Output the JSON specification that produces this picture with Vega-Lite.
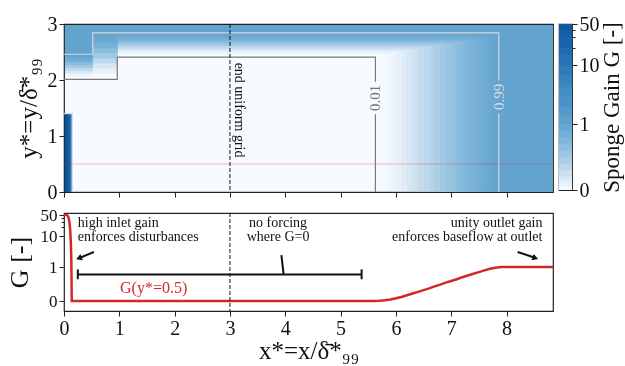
{
  "$schema": "https://vega.github.io/schema/vega-lite/v6.json",
  "padding": {"left": 5, "top": 13, "right": 2, "bottom": 2},
  "spacing": 2,
  "config": {
    "font": "Liberation Serif",
    "view": {"stroke": "#222", "strokeWidth": 1.2},
    "axis": {"domain": false, "grid": false, "tickColor": "#222", "labelColor": "#111", "titleColor": "#111", "labelFont": "Liberation Serif", "titleFont": "Liberation Serif", "labelFontSize": 20, "titleFontSize": 25, "titleFontWeight": "normal", "tickSize": 5, "labelPadding": 2, "labelFlush": false, "labelOverlap": false, "tickCount": 20}
  },
  "datasets": {
    "heat": [
      {"x": 0, "x2": 8.84, "y": 0, "y2": 3, "G": 0},
      {"x": 5.6, "x2": 8.84, "y": 0, "y2": 3, "G": 0.003},
      {"x": 5.7, "x2": 8.84, "y": 0, "y2": 3, "G": 0.012},
      {"x": 5.8, "x2": 8.84, "y": 0, "y2": 3, "G": 0.03},
      {"x": 5.9, "x2": 8.84, "y": 0, "y2": 3, "G": 0.06},
      {"x": 6.0, "x2": 8.84, "y": 0, "y2": 3, "G": 0.1},
      {"x": 6.1, "x2": 8.84, "y": 0, "y2": 3, "G": 0.145},
      {"x": 6.2, "x2": 8.84, "y": 0, "y2": 3, "G": 0.195},
      {"x": 6.3, "x2": 8.84, "y": 0, "y2": 3, "G": 0.245},
      {"x": 6.4, "x2": 8.84, "y": 0, "y2": 3, "G": 0.295},
      {"x": 6.5, "x2": 8.84, "y": 0, "y2": 3, "G": 0.345},
      {"x": 6.6, "x2": 8.84, "y": 0, "y2": 3, "G": 0.4},
      {"x": 6.7, "x2": 8.84, "y": 0, "y2": 3, "G": 0.455},
      {"x": 6.8, "x2": 8.84, "y": 0, "y2": 3, "G": 0.51},
      {"x": 6.9, "x2": 8.84, "y": 0, "y2": 3, "G": 0.565},
      {"x": 7.0, "x2": 8.84, "y": 0, "y2": 3, "G": 0.615},
      {"x": 7.1, "x2": 8.84, "y": 0, "y2": 3, "G": 0.67},
      {"x": 7.2, "x2": 8.84, "y": 0, "y2": 3, "G": 0.725},
      {"x": 7.3, "x2": 8.84, "y": 0, "y2": 3, "G": 0.775},
      {"x": 7.4, "x2": 8.84, "y": 0, "y2": 3, "G": 0.825},
      {"x": 7.5, "x2": 8.84, "y": 0, "y2": 3, "G": 0.875},
      {"x": 7.6, "x2": 8.84, "y": 0, "y2": 3, "G": 0.925},
      {"x": 7.7, "x2": 8.84, "y": 0, "y2": 3, "G": 0.965},
      {"x": 7.8, "x2": 8.84, "y": 0, "y2": 3, "G": 0.99},
      {"x": 7.88, "x2": 8.84, "y": 0, "y2": 3, "G": 1},
      {"x": 0.97, "x2": 8.84, "y": 2.42, "y2": 3, "G": 0.009},
      {"x": 0.97, "x2": 8.84, "y": 2.467, "y2": 3, "G": 0.074},
      {"x": 0.97, "x2": 8.84, "y": 2.513, "y2": 3, "G": 0.189},
      {"x": 0.97, "x2": 8.84, "y": 2.56, "y2": 3, "G": 0.336},
      {"x": 0.97, "x2": 8.84, "y": 2.607, "y2": 3, "G": 0.5},
      {"x": 0.97, "x2": 8.84, "y": 2.653, "y2": 3, "G": 0.664},
      {"x": 0.97, "x2": 8.84, "y": 2.7, "y2": 3, "G": 0.811},
      {"x": 0.97, "x2": 8.84, "y": 2.747, "y2": 3, "G": 0.926},
      {"x": 0.97, "x2": 8.84, "y": 2.793, "y2": 3, "G": 0.991},
      {"x": 0.97, "x2": 8.84, "y": 2.84, "y2": 3, "G": 1},
      {"x": 0, "x2": 0.52, "y": 2.02, "y2": 3, "G": 0.009},
      {"x": 0, "x2": 0.52, "y": 2.069, "y2": 3, "G": 0.074},
      {"x": 0, "x2": 0.52, "y": 2.118, "y2": 3, "G": 0.189},
      {"x": 0, "x2": 0.52, "y": 2.167, "y2": 3, "G": 0.336},
      {"x": 0, "x2": 0.52, "y": 2.216, "y2": 3, "G": 0.5},
      {"x": 0, "x2": 0.52, "y": 2.264, "y2": 3, "G": 0.664},
      {"x": 0, "x2": 0.52, "y": 2.313, "y2": 3, "G": 0.811},
      {"x": 0, "x2": 0.52, "y": 2.362, "y2": 3, "G": 0.926},
      {"x": 0, "x2": 0.52, "y": 2.411, "y2": 3, "G": 0.991},
      {"x": 0, "x2": 0.52, "y": 2.46, "y2": 3, "G": 1},
      {"x": 0.52, "x2": 0.97, "y": 2.02, "y2": 3, "G": 0.009},
      {"x": 0.52, "x2": 0.97, "y": 2.111, "y2": 3, "G": 0.074},
      {"x": 0.52, "x2": 0.97, "y": 2.202, "y2": 3, "G": 0.189},
      {"x": 0.52, "x2": 0.97, "y": 2.293, "y2": 3, "G": 0.336},
      {"x": 0.52, "x2": 0.97, "y": 2.384, "y2": 3, "G": 0.5},
      {"x": 0.52, "x2": 0.97, "y": 2.476, "y2": 3, "G": 0.664},
      {"x": 0.52, "x2": 0.97, "y": 2.567, "y2": 3, "G": 0.811},
      {"x": 0.52, "x2": 0.97, "y": 2.658, "y2": 3, "G": 0.926},
      {"x": 0.52, "x2": 0.97, "y": 2.749, "y2": 3, "G": 0.991},
      {"x": 0.52, "x2": 0.97, "y": 2.84, "y2": 3, "G": 1},
      {"x": 0, "x2": 0.145, "y": 0, "y2": 1.39, "G": 2},
      {"x": 0, "x2": 0.13, "y": 0, "y2": 1.39, "G": 10},
      {"x": 0, "x2": 0.11, "y": 0, "y2": 1.39, "G": 30},
      {"x": 0, "x2": 0.08, "y": 0, "y2": 1.39, "G": 50}
    ],
    "c01": [
      {"seg": "a", "o": 1, "x": 0, "y": 2.01},
      {"seg": "a", "o": 2, "x": 0.963, "y": 2.01},
      {"seg": "a", "o": 3, "x": 0.963, "y": 2.41},
      {"seg": "a", "o": 4, "x": 5.63, "y": 2.41},
      {"seg": "a", "o": 5, "x": 5.63, "y": 1.97},
      {"seg": "b", "o": 1, "x": 5.63, "y": 1.39},
      {"seg": "b", "o": 2, "x": 5.63, "y": 0}
    ],
    "c99": [
      {"seg": "a", "o": 1, "x": 0, "y": 2.46},
      {"seg": "a", "o": 2, "x": 0.52, "y": 2.46},
      {"seg": "a", "o": 3, "x": 0.52, "y": 2.84},
      {"seg": "a", "o": 4, "x": 7.86, "y": 2.84},
      {"seg": "a", "o": 5, "x": 7.86, "y": 1.99},
      {"seg": "b", "o": 1, "x": 7.86, "y": 1.41},
      {"seg": "b", "o": 2, "x": 7.86, "y": 0},
      {"seg": "c", "o": 1, "x": 0, "y": 1.4},
      {"seg": "c", "o": 2, "x": 0.15, "y": 1.4},
      {"seg": "c", "o": 3, "x": 0.15, "y": 0}
    ],
    "cbar": [
      {"lo": 0, "hi": 50, "G": 0.025},
      {"lo": 0.05, "hi": 50, "G": 0.075},
      {"lo": 0.1, "hi": 50, "G": 0.125},
      {"lo": 0.15, "hi": 50, "G": 0.175},
      {"lo": 0.2, "hi": 50, "G": 0.25},
      {"lo": 0.3, "hi": 50, "G": 0.35},
      {"lo": 0.4, "hi": 50, "G": 0.45},
      {"lo": 0.5, "hi": 50, "G": 0.55},
      {"lo": 0.6, "hi": 50, "G": 0.65},
      {"lo": 0.7, "hi": 50, "G": 0.75},
      {"lo": 0.8, "hi": 50, "G": 0.85},
      {"lo": 0.9, "hi": 50, "G": 0.95},
      {"lo": 1, "hi": 50, "G": 1.25},
      {"lo": 1.5, "hi": 50, "G": 1.75},
      {"lo": 2, "hi": 50, "G": 2.5},
      {"lo": 3, "hi": 50, "G": 3.5},
      {"lo": 4, "hi": 50, "G": 4.5},
      {"lo": 5, "hi": 50, "G": 6},
      {"lo": 7, "hi": 50, "G": 8.5},
      {"lo": 10, "hi": 50, "G": 12.5},
      {"lo": 15, "hi": 50, "G": 17.5},
      {"lo": 20, "hi": 50, "G": 25},
      {"lo": 30, "hi": 50, "G": 35},
      {"lo": 40, "hi": 50, "G": 45}
    ],
    "gline": [
      {"x": 0, "G": 50}, {"x": 0.05, "G": 50}, {"x": 0.07, "G": 47}, {"x": 0.085, "G": 40},
      {"x": 0.1, "G": 28}, {"x": 0.11, "G": 18}, {"x": 0.12, "G": 9}, {"x": 0.127, "G": 4},
      {"x": 0.133, "G": 1.5}, {"x": 0.137, "G": 0.5}, {"x": 0.14, "G": 0}, {"x": 5.6, "G": 0},
      {"x": 5.7, "G": 0.005}, {"x": 5.8, "G": 0.02}, {"x": 5.9, "G": 0.045}, {"x": 6.0, "G": 0.08},
      {"x": 6.1, "G": 0.12}, {"x": 6.2, "G": 0.17}, {"x": 6.3, "G": 0.22}, {"x": 6.4, "G": 0.27},
      {"x": 6.5, "G": 0.32}, {"x": 6.6, "G": 0.37}, {"x": 6.7, "G": 0.43}, {"x": 6.8, "G": 0.48},
      {"x": 6.9, "G": 0.54}, {"x": 7.0, "G": 0.59}, {"x": 7.1, "G": 0.64}, {"x": 7.2, "G": 0.7},
      {"x": 7.3, "G": 0.75}, {"x": 7.4, "G": 0.8}, {"x": 7.5, "G": 0.85}, {"x": 7.6, "G": 0.9},
      {"x": 7.7, "G": 0.95}, {"x": 7.8, "G": 0.98}, {"x": 7.9, "G": 1}, {"x": 8.84, "G": 1}
    ],
    "segs": [
      {"x": 0.54, "G": 3.1, "x2": 0.3, "G2": 2.05},
      {"x": 8.2, "G": 3.1, "x2": 8.49, "G2": 2.1},
      {"x": 0.25, "G": 0.78, "x2": 5.38, "G2": 0.78},
      {"x": 0.25, "G": 0.64, "x2": 0.25, "G2": 0.93},
      {"x": 5.38, "G": 0.64, "x2": 5.38, "G2": 0.93},
      {"x": 3.93, "G": 2.5, "x2": 3.97, "G2": 0.78}
    ]
  },
  "vconcat": [
    {
      "hconcat": [
        {
          "width": 489,
          "height": 168,
          "layer": [
            {
              "data": {"name": "heat"},
              "mark": {"type": "rect", "blend": "darken"},
              "encoding": {
                "x": {"field": "x", "type": "quantitative", "scale": {"domain": [0, 8.84], "nice": false, "zero": false}, "axis": {"title": null, "labels": false, "values": [0, 1, 2, 3, 4, 5, 6, 7, 8]}},
                "x2": {"field": "x2"},
                "y": {"field": "y", "type": "quantitative", "scale": {"domain": [0, 3], "nice": false, "zero": false}, "axis": {"title": "y*=y/δ̄*₉₉", "values": [0, 1, 2, 3], "format": "d", "titlePadding": 6}},
                "y2": {"field": "y2"},
                "color": {"field": "G", "type": "quantitative", "legend": null, "scale": {"type": "linear", "domain": [0, 0.1, 0.25, 0.5, 0.75, 1, 2, 5, 10, 20, 50], "range": ["#f7fbff", "#e6f0fa", "#cde0f1", "#a2cae4", "#7fb6da", "#62a3d0", "#4f95c9", "#3785c0", "#2a77b8", "#1c68ae", "#0c559f"], "interpolate": "rgb"}}
              }
            },
            {
              "data": {"values": [{"y": 0.5}]},
              "mark": {"type": "rule", "color": "#d62728", "opacity": 0.3, "strokeWidth": 1},
              "encoding": {"y": {"field": "y", "type": "quantitative"}}
            },
            {
              "data": {"name": "c01"},
              "mark": {"type": "line", "color": "#7a7a7a", "strokeWidth": 1.2},
              "encoding": {"x": {"field": "x", "type": "quantitative"}, "y": {"field": "y", "type": "quantitative"}, "detail": {"field": "seg"}, "order": {"field": "o"}}
            },
            {
              "data": {"name": "c99"},
              "mark": {"type": "line", "color": "#d6d6d6", "strokeWidth": 1.2},
              "encoding": {"x": {"field": "x", "type": "quantitative"}, "y": {"field": "y", "type": "quantitative"}, "detail": {"field": "seg"}, "order": {"field": "o"}}
            },
            {
              "data": {"values": [{"x": 3}]},
              "mark": {"type": "rule", "color": "#111", "strokeDash": [4, 2], "strokeWidth": 1},
              "encoding": {"x": {"field": "x", "type": "quantitative"}}
            },
            {
              "data": {"values": [{"x": 3.16, "y": 2.31, "t": "end uniform grid"}]},
              "mark": {"type": "text", "angle": 90, "align": "left", "baseline": "middle", "fontSize": 14, "color": "#111"},
              "encoding": {"x": {"field": "x", "type": "quantitative"}, "y": {"field": "y", "type": "quantitative"}, "text": {"field": "t"}}
            },
            {
              "data": {"values": [{"x": 5.63, "y": 1.68, "t": "0.01"}]},
              "mark": {"type": "text", "angle": 270, "align": "center", "baseline": "middle", "fontSize": 15, "color": "#777"},
              "encoding": {"x": {"field": "x", "type": "quantitative"}, "y": {"field": "y", "type": "quantitative"}, "text": {"field": "t"}}
            },
            {
              "data": {"values": [{"x": 7.86, "y": 1.7, "t": "0.99"}]},
              "mark": {"type": "text", "angle": 270, "align": "center", "baseline": "middle", "fontSize": 15, "color": "#dddddd"},
              "encoding": {"x": {"field": "x", "type": "quantitative"}, "y": {"field": "y", "type": "quantitative"}, "text": {"field": "t"}}
            }
          ]
        },
        {
          "width": 13,
          "height": 166,
          "data": {"name": "cbar"},
          "mark": "rect",
          "encoding": {
            "y": {"field": "lo", "type": "quantitative", "scale": {"type": "linear", "domain": [0, 1, 2, 3, 4, 5, 6, 7, 8, 9, 10, 15, 20, 30, 40, 50], "range": [166, 100.37, 82.59, 72.18, 64.8, 59.08, 54.4, 50.45, 47.02, 44, 41.3, 30.89, 23.52, 13.11, 5.73, 0], "nice": false, "zero": false},
              "axis": {"orient": "right", "values": [0, 1, 10, 20, 30, 40, 50], "format": "d", "labelExpr": "datum.value == 20 || datum.value == 30 || datum.value == 40 ? '' : datum.label", "tickSize": {"condition": {"test": "datum.value == 20 || datum.value == 30 || datum.value == 40", "value": 3}, "value": 5}, "title": "Sponge Gain G [-]", "titleAngle": 270, "titleBaseline": "top", "titleFontSize": 23, "titlePadding": 1}},
            "y2": {"field": "hi"},
            "color": {"field": "G", "type": "quantitative", "legend": null, "scale": {"type": "linear", "domain": [0, 0.1, 0.25, 0.5, 0.75, 1, 2, 5, 10, 20, 50], "range": ["#f7fbff", "#e6f0fa", "#cde0f1", "#a2cae4", "#7fb6da", "#62a3d0", "#4f95c9", "#3785c0", "#2a77b8", "#1c68ae", "#0c559f"], "interpolate": "rgb"}}
          }
        }
      ],
      "spacing": 3
    },
    {
      "width": 489,
      "height": 98,
      "layer": [
        {
          "data": {"name": "gline"},
          "mark": {"type": "line", "color": "#d62728", "strokeWidth": 2.5},
          "encoding": {
            "x": {"field": "x", "type": "quantitative", "scale": {"domain": [0, 8.84], "nice": false, "zero": false}, "axis": {"title": "x*=x/δ̄*₉₉", "values": [0, 1, 2, 3, 4, 5, 6, 7, 8], "format": "d", "titleFontSize": 25, "titlePadding": 0}},
            "y": {"field": "G", "type": "quantitative", "scale": {"type": "linear", "domain": [-0.294, 0, 1, 2, 3, 4, 5, 6, 7, 8, 9, 10, 15, 20, 30, 40, 50, 58.2], "range": [98, 88, 54, 44.79, 39.4, 35.58, 32.61, 30.19, 28.14, 26.37, 24.8, 23.4, 18.01, 14.19, 8.8, 4.98, 2.01, 0], "nice": false, "zero": false},
              "axis": {"title": "G [-]", "titleFontSize": 26, "titlePadding": 8, "labelFontSize": 17, "values": [0, 1, 10, 20, 30, 40, 50], "format": "d", "labelExpr": "datum.value == 20 || datum.value == 30 || datum.value == 40 ? '' : datum.label", "tickSize": {"condition": {"test": "datum.value == 20 || datum.value == 30 || datum.value == 40", "value": 3}, "value": 5}}},
            "order": {"field": "x"}
          }
        },
        {
          "data": {"values": [{"x": 3}]},
          "mark": {"type": "rule", "color": "#111", "strokeDash": [4, 2], "strokeWidth": 1},
          "encoding": {"x": {"field": "x", "type": "quantitative"}}
        },
        {
          "data": {"name": "segs"},
          "mark": {"type": "rule", "color": "#111", "strokeWidth": 2},
          "encoding": {"x": {"field": "x", "type": "quantitative"}, "y": {"field": "G", "type": "quantitative"}, "x2": {"field": "x2"}, "y2": {"field": "G2"}}
        },
        {
          "data": {"values": [{"x": 0.27, "G": 1.95}]},
          "mark": {"type": "point", "shape": "triangle-left", "angle": -22, "filled": true, "color": "#111", "size": 45, "opacity": 1},
          "encoding": {"x": {"field": "x", "type": "quantitative"}, "y": {"field": "G", "type": "quantitative"}}
        },
        {
          "data": {"values": [{"x": 8.52, "G": 1.97}]},
          "mark": {"type": "point", "shape": "triangle-right", "angle": 19, "filled": true, "color": "#111", "size": 45, "opacity": 1},
          "encoding": {"x": {"field": "x", "type": "quantitative"}, "y": {"field": "G", "type": "quantitative"}}
        },
        {
          "data": {"values": [{"x": 0.25, "G": 28.7, "t": "high inlet gain"}, {"x": 0.25, "G": 9.43, "t": "enforces disturbances"}]},
          "mark": {"type": "text", "align": "left", "baseline": "middle", "fontSize": 14, "color": "#111"},
          "encoding": {"x": {"field": "x", "type": "quantitative"}, "y": {"field": "G", "type": "quantitative"}, "text": {"field": "t"}}
        },
        {
          "data": {"values": [{"x": 3.87, "G": 28.7, "t": "no forcing"}, {"x": 3.87, "G": 9.43, "t": "where G=0"}]},
          "mark": {"type": "text", "align": "center", "baseline": "middle", "fontSize": 14, "color": "#111"},
          "encoding": {"x": {"field": "x", "type": "quantitative"}, "y": {"field": "G", "type": "quantitative"}, "text": {"field": "t"}}
        },
        {
          "data": {"values": [{"x": 8.65, "G": 28.7, "t": "unity outlet gain"}, {"x": 8.65, "G": 9.43, "t": "enforces baseflow at outlet"}]},
          "mark": {"type": "text", "align": "right", "baseline": "middle", "fontSize": 14, "color": "#111"},
          "encoding": {"x": {"field": "x", "type": "quantitative"}, "y": {"field": "G", "type": "quantitative"}, "text": {"field": "t"}}
        },
        {
          "data": {"values": [{"x": 1.62, "G": 0.38, "t": "G(y*=0.5)"}]},
          "mark": {"type": "text", "align": "center", "baseline": "middle", "fontSize": 16, "color": "#d62728"},
          "encoding": {"x": {"field": "x", "type": "quantitative"}, "y": {"field": "G", "type": "quantitative"}, "text": {"field": "t"}}
        }
      ]
    }
  ]
}
